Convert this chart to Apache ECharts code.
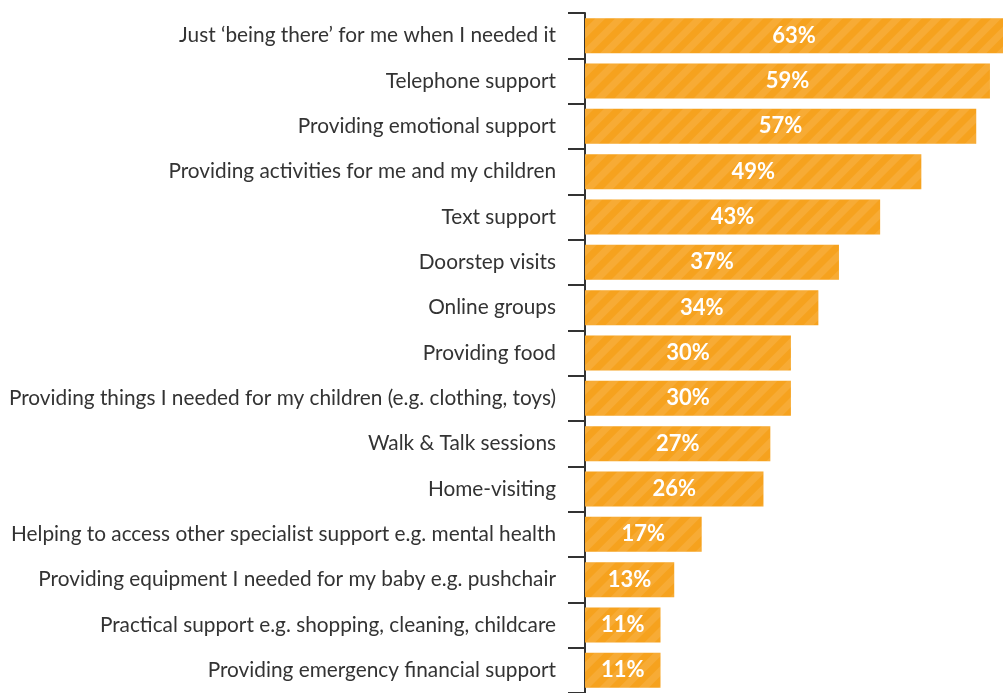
<!DOCTYPE html>
<html>
<head>
<meta charset="utf-8">
<script src="https://cdn.jsdelivr.net/npm/echarts@6/dist/echarts.min.js"></script>
<style>
  html, body { margin: 0; padding: 0; background: #ffffff; }
  #chart { width: 1003px; height: 693px; }
</style>
</head>
<body>
<div id="chart"></div>
<script>
// Ways the service helped, share of respondents (%)
const categories = [
  "Just \u2018being there\u2019 for me when I needed it",
  "Telephone support",
  "Providing emotional support",
  "Providing activities for me and my children",
  "Text support",
  "Doorstep visits",
  "Online groups",
  "Providing food",
  "Providing things I needed for my children (e.g. clothing, toys)",
  "Walk & Talk sessions",
  "Home-visiting",
  "Helping to access other specialist support e.g. mental health",
  "Providing equipment I needed for my baby e.g. pushchair",
  "Practical support e.g. shopping, cleaning, childcare",
  "Providing emergency financial support"
];
const values = [63, 59, 57, 49, 43, 37, 34, 30, 30, 27, 26, 17, 13, 11, 11];

const chart = echarts.init(document.getElementById('chart'));
chart.setOption({
  animation: false,
  grid: { left: 585, right: 0, top: 13, bottom: 0, containLabel: false },
  xAxis: {
    type: 'value',
    min: 0,
    max: 60.9,
    show: false
  },
  yAxis: {
    type: 'category',
    data: categories,
    inverse: true,
    axisLine: { show: true, lineStyle: { color: '#333333', width: 2 } },
    axisTick: { show: true, length: 17, lineStyle: { color: '#333333', width: 2 } },
    axisLabel: {
      margin: 29,
      color: '#333333',
      fontFamily: 'Lato',
      fontSize: 20.8,
      padding: [6, 0, 0, 0]
    }
  },
  series: [{
    type: 'bar',
    data: values,
    barWidth: 35,
    clip: true,
    itemStyle: {
      color: '#F6A21E',
      decal: {
        symbol: 'rect',
        symbolSize: 1,
        dashArrayX: [1, 0],
        dashArrayY: [7, 7],
        rotation: -Math.PI / 4,
        color: 'rgba(255,255,255,0.1)'
      }
    },
    label: {
      show: true,
      position: 'inside',
      formatter: '{c}%',
      color: '#ffffff',
      fontFamily: 'Lato',
      fontWeight: 'bold',
      fontSize: 22
    }
  }]
});
</script>
</body>
</html>
